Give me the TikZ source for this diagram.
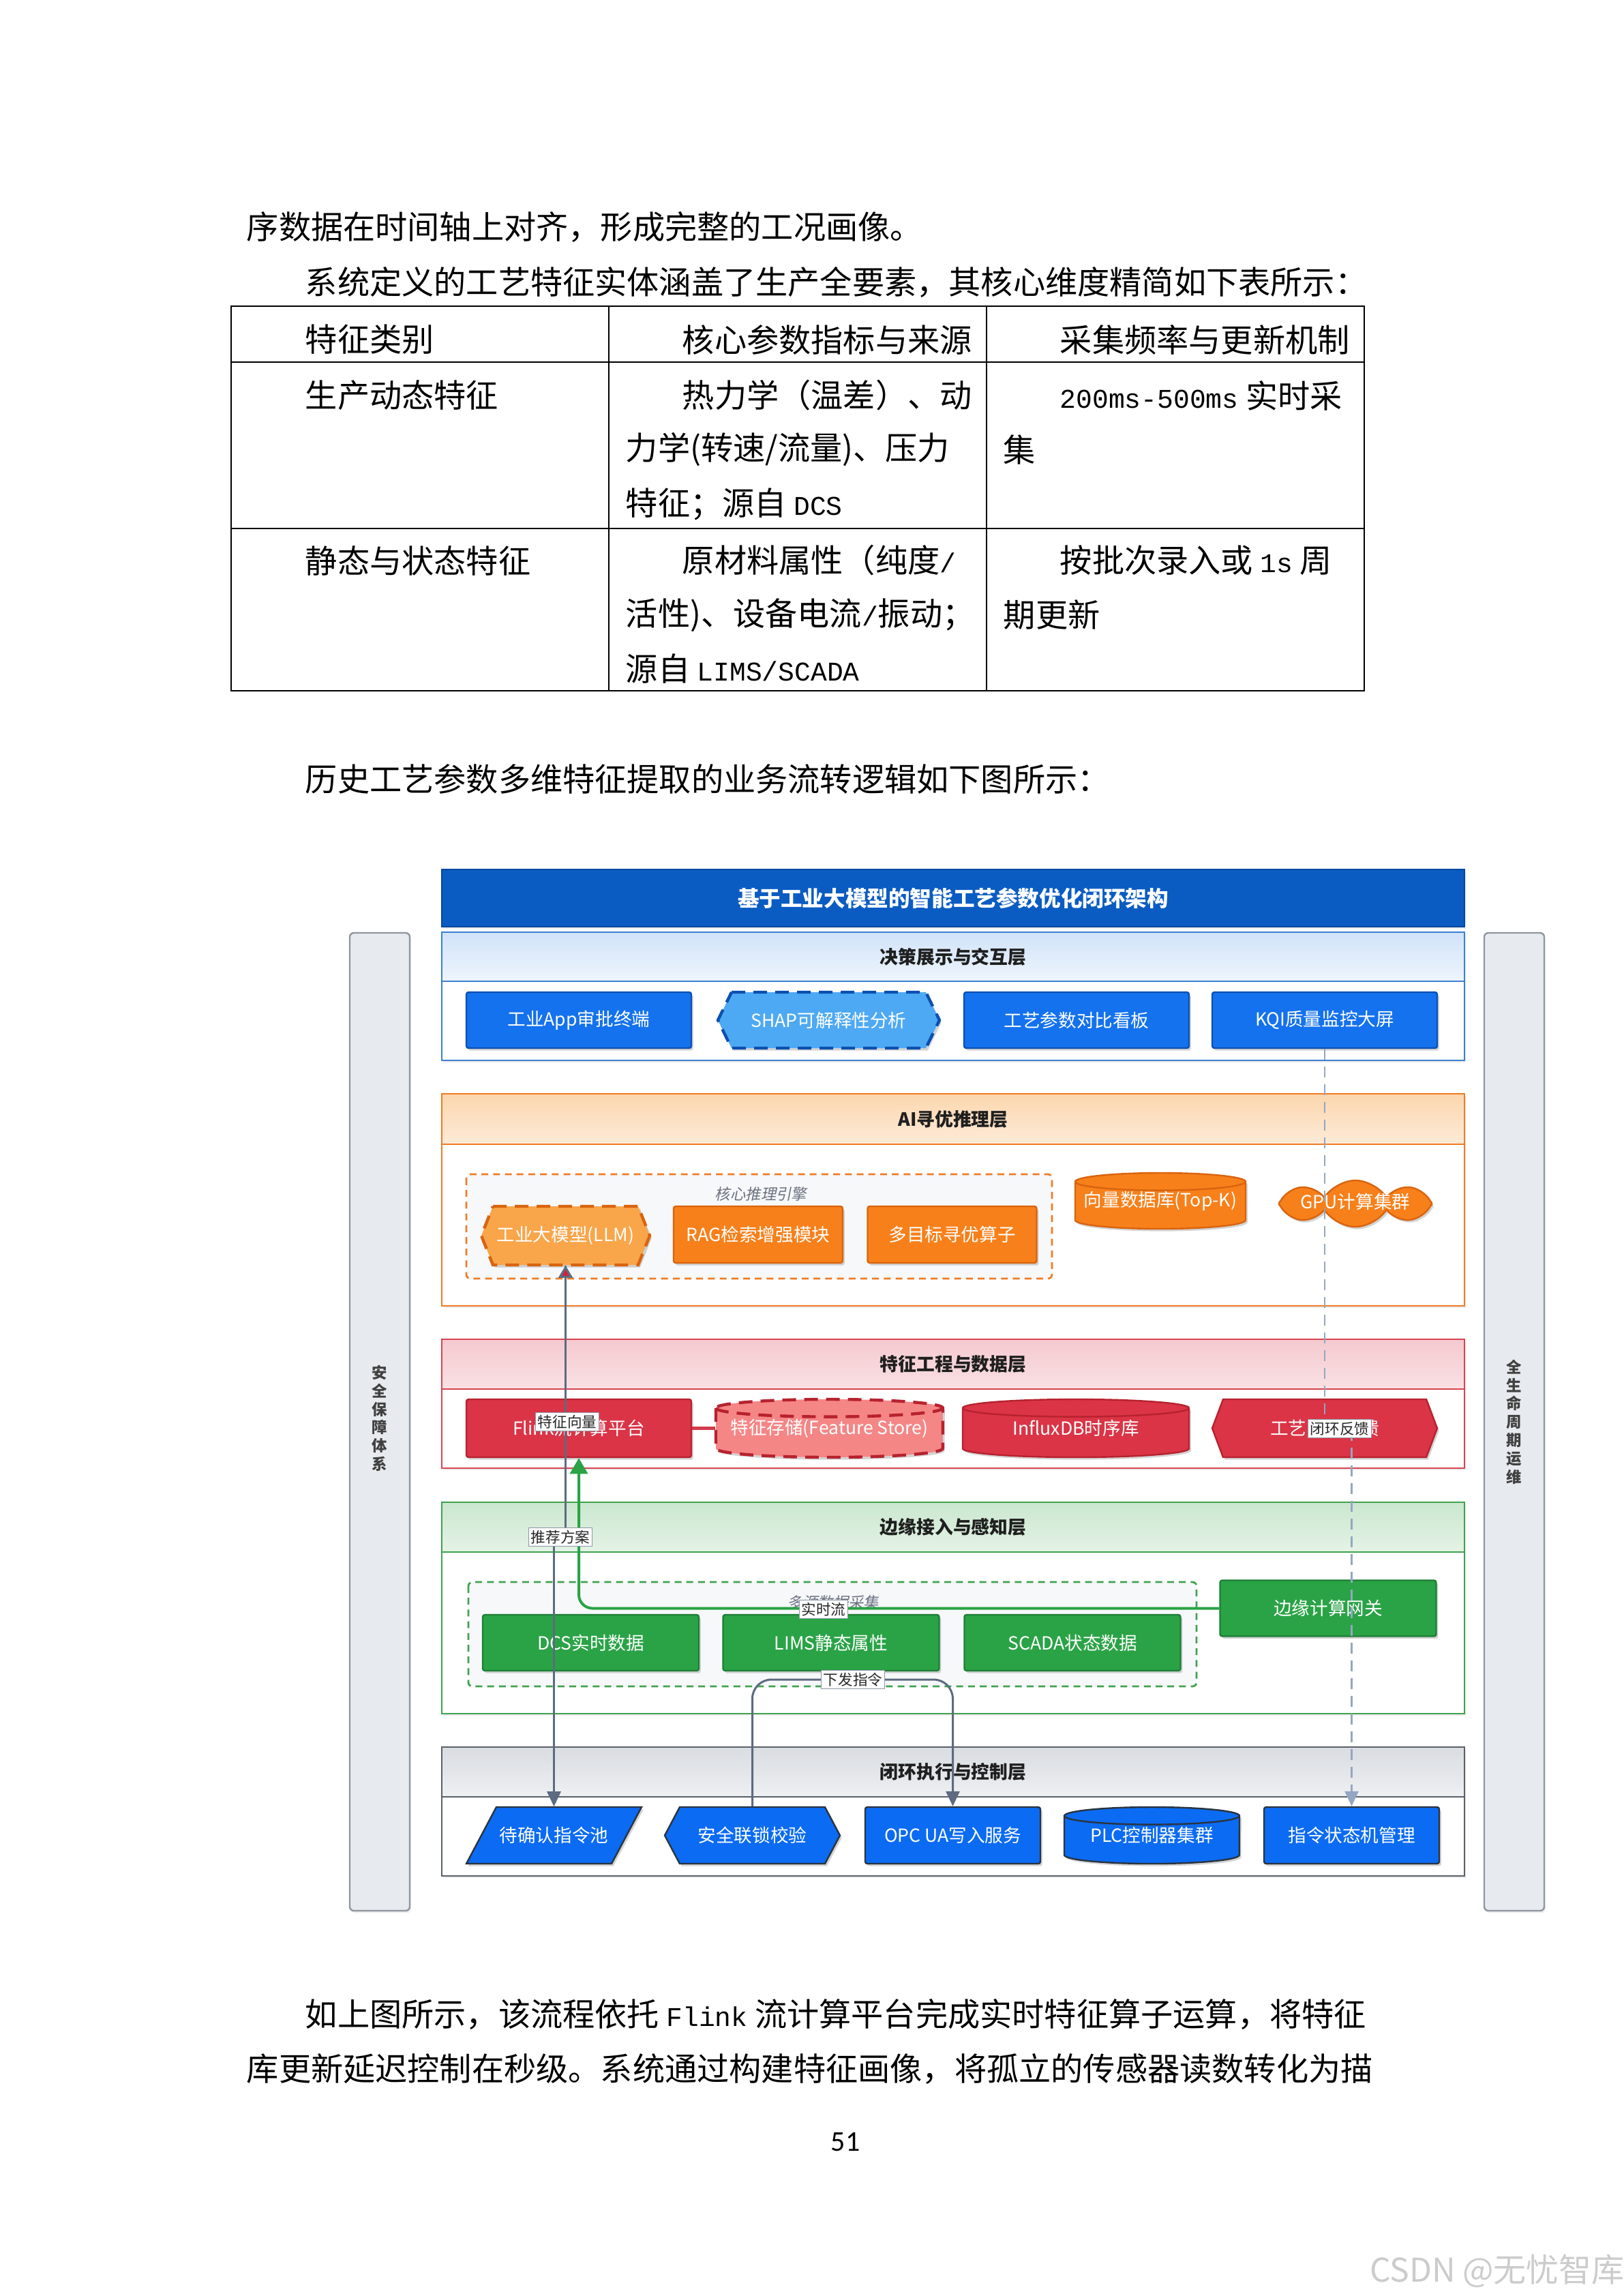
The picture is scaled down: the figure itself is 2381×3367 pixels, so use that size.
\documentclass[tikz,border=0pt]{standalone}
\usepackage{fontspec}
\setmainfont{Noto Sans CJK SC}
\newfontfamily\cjk{Noto Sans CJK SC}
\newfontfamily\cjkit[FakeSlant=0.2]{Noto Sans CJK SC}
\newfontfamily\monof[Scale=0.84]{Liberation Mono}
\newfontfamily\numf{Carlito}
\usetikzlibrary{shapes.symbols,shadows,arrows.meta}

\definecolor{cTitle}{HTML}{0B5CC2}
\definecolor{cTitleD}{HTML}{07479E}
\definecolor{cL1}{HTML}{3B80D0}
\definecolor{cL1a}{HTML}{D0E3F9}
\definecolor{cL1b}{HTML}{EEF5FD}
\definecolor{cBlue}{HTML}{1472EE}
\definecolor{cBlueD}{HTML}{0C50B0}
\definecolor{cShap}{HTML}{4EA9F4}
\definecolor{cL2}{HTML}{F07B24}
\definecolor{cL2a}{HTML}{FBD6AE}
\definecolor{cL2b}{HTML}{FDEBD8}
\definecolor{cOr}{HTML}{F7801A}
\definecolor{cOrD}{HTML}{D9640F}
\definecolor{cLLM}{HTML}{F9A54A}
\definecolor{cGrp}{HTML}{F7F8FA}
\definecolor{cL3}{HTML}{D84450}
\definecolor{cL3a}{HTML}{F4C9CF}
\definecolor{cL3b}{HTML}{F9E1E4}
\definecolor{cRed}{HTML}{DB3446}
\definecolor{cRedD}{HTML}{B7222F}
\definecolor{cFS}{HTML}{F58686}
\definecolor{cRedL}{HTML}{D23B4B}
\definecolor{cL4}{HTML}{3FA24F}
\definecolor{cL4a}{HTML}{CBE7CF}
\definecolor{cL4b}{HTML}{E4F3E6}
\definecolor{cGreen}{HTML}{2AA346}
\definecolor{cGreenD}{HTML}{1E7E36}
\definecolor{cL5}{HTML}{5B6168}
\definecolor{cL5a}{HTML}{D9DCE1}
\definecolor{cL5b}{HTML}{EEF0F2}
\definecolor{cB5}{HTML}{0B6BF3}
\definecolor{cB5D}{HTML}{2A3440}
\definecolor{cLink}{HTML}{5C6B80}
\definecolor{cArrR}{HTML}{D02440}
\definecolor{cDash}{HTML}{95A6C2}
\definecolor{cBar}{HTML}{E7EAEE}
\definecolor{cBarD}{HTML}{8F969F}
\definecolor{cGrpTxt}{HTML}{6B7280}

\newcommand\bodysize{\fontsize{11.8}{14}\selectfont}
\newcommand\nodesize{\fontsize{6.65}{8}\selectfont}

\tikzset{
  shd/.style={drop shadow={shadow xshift=0.7pt,shadow yshift=-0.9pt,opacity=0.28,fill=black!60}},
  lshd/.style={drop shadow={shadow xshift=0.5pt,shadow yshift=-0.8pt,opacity=0.15,fill=black!50}},
  bodytxt/.style={anchor=west,inner sep=0pt,font=\bodysize},
  ntext/.style={rectangle,inner sep=0pt,text=white,font=\nodesize},
  nbox/.style={ntext,rounded corners=0.8pt,line width=0.6pt,shd},
  bluebox/.style={nbox,fill=cBlue,draw=cBlueD,minimum width=82.5pt,minimum height=20.5pt},
  orbox/.style={nbox,fill=cOr,draw=cOrD,minimum width=62pt,minimum height=20.75pt},
  redbox/.style={nbox,fill=cRed,draw=cRedD,minimum width=82.5pt,minimum height=21.25pt},
  greenbox/.style={nbox,fill=cGreen,draw=cGreenD,minimum width=79.25pt,minimum height=20.5pt},
  bfbox/.style={nbox,fill=cB5,draw=cB5D,minimum width=64.25pt,minimum height=20.75pt},
  layertitle/.style={inner sep=0pt,font=\fontsize{6.7}{8}\selectfont\bfseries,text=black!88},
  grplabel/.style={inner sep=0pt,font=\cjkit\fontsize{5.6}{7}\selectfont,text=cGrpTxt},
  elabel/.style={fill=white,draw=cLink!70,line width=0.3pt,inner sep=0.8pt,font=\fontsize{5.4}{6}\selectfont,text=black!85},
  sidebar/.style={rectangle,fill=cBar,draw=cBarD,line width=0.6pt,rounded corners=1.5pt,minimum width=22pt,minimum height=358.5pt,lshd},
  sidetxt/.style={align=center,inner sep=0pt,font=\fontsize{5.6}{6.7}\selectfont\bfseries,text=black!75},
  glink/.style={draw=cLink,line width=0.75pt},
  gtip/.style={-{Triangle[length=5.5pt,width=5pt,fill=cLink]}},
}

% hexagon with pointed left/right sides: name,x1,y1,x2,y2,indent,style,text
\newcommand\hexnode[8]{%
  \path[#7] ({#2+#6},#3) -- ({#4-#6},#3) -- (#4,{(#3+#5)/2}) -- ({#4-#6},#5) -- ({#2+#6},#5) -- (#2,{(#3+#5)/2}) -- cycle;
  \node[ntext,minimum width={(#4-#2)*0.25pt},minimum height={(#5-#3)*0.25pt}] (#1) at ({(#2+#4)/2},{(#3+#5)/2}) {#8};}
% parallelogram: name,x1,y1,x2,y2,skew,style,text
\newcommand\paranode[8]{%
  \path[#7] ({#2+#6},#3) -- (#4,#3) -- ({#4-#6},#5) -- (#2,#5) -- cycle;
  \node[ntext,minimum width={(#4-#2)*0.25pt},minimum height={(#5-#3)*0.25pt}] (#1) at ({(#2+#4)/2},{(#3+#5)/2}) {#8};}
% cylinder: name,x1,y1,x2,y2,xradius,style,frontstyle,text  (ellipse y radius 3.2pt = 12.8 units)
\newcommand\cylnode[9]{%
  \path[#7] (#2,{#3+12.8}) -- (#2,{#5-12.8}) arc[start angle=180,end angle=360,x radius=#6,y radius=3.2pt] -- (#4,{#3+12.8}) arc[start angle=0,end angle=180,x radius=#6,y radius=3.2pt] -- cycle;
  \path[#8] (#2,{#3+12.8}) arc[start angle=180,end angle=360,x radius=#6,y radius=3.2pt];
  \node[ntext,minimum width={(#4-#2)*0.25pt},minimum height={(#5-#3)*0.25pt}] (#1) at ({(#2+#4)/2},{(#3+#5)/2}) {#9};}
% layer: name,y1,yheader,y2,border,topcolor,bottomcolor,title
\newcommand\layerband[8]{%
  \path[draw=#5,line width=0.6pt,fill=white,lshd] (648,#2) rectangle (2148,#4);
  \path[draw=#5,line width=0.6pt,top color=#6,bottom color=#7] (648,#2) rectangle (2148,#3);
  \node[layertitle] (#1) at (1398,{(#2+#3)/2}) {#8};}

\begin{document}
\begin{tikzpicture}[x=0.25pt,y=-0.25pt]
\useasboundingbox (0,0) rectangle (2381,3367);
\fill[white] (0,0) rectangle (2381,3367);

% ---------- body text above ----------
\node[bodytxt] (p1) at (361,333) {序数据在时间轴上对齐，形成完整的工况画像。};
\node[bodytxt] (p2) at (447,414) {系统定义的工艺特征实体涵盖了生产全要素，其核心维度精简如下表所示：};

% ---------- table ----------
\draw[line width=0.7pt] (339,449) rectangle (2001,1013);
\draw[line width=0.7pt] (339,531) -- (2001,531);
\draw[line width=0.7pt] (339,775) -- (2001,775);
\draw[line width=0.7pt] (893,449) -- (893,1013);
\draw[line width=0.7pt] (1447,449) -- (1447,1013);

\node[bodytxt] (h1) at (447,498) {特征类别};
\node[bodytxt] (h2) at (1000,498) {核心参数指标与来源};
\node[bodytxt] (h3) at (1554,498) {采集频率与更新机制};

\node[bodytxt] (r1c1) at (447,580) {生产动态特征};
\node[bodytxt] (r1c2a) at (1000,580) {热力学（温差）、动};
\node[bodytxt] (r1c2b) at (917,659) {力学(转速/流量)、压力};
\node[bodytxt] (r1c2c) at (917,739) {特征；源自 {\monof DCS}};
\node[bodytxt] (r1c3a) at (1554,580) {{\monof 200ms-500ms} 实时采};
\node[bodytxt] (r1c3b) at (1471,659) {集};

\node[bodytxt] (r2c1) at (447,822) {静态与状态特征};
\node[bodytxt] (r2c2a) at (1000,822) {原材料属性（纯度{\monof /}};
\node[bodytxt] (r2c2b) at (917,902) {活性)、设备电流{\monof /}振动；};
\node[bodytxt] (r2c2c) at (917,981) {源自 {\monof LIMS/SCADA}};
\node[bodytxt] (r2c3a) at (1554,822) {按批次录入或 {\monof 1s} 周};
\node[bodytxt] (r2c3b) at (1471,902) {期更新};

\node[bodytxt] (p3) at (447,1142) {历史工艺参数多维特征提取的业务流转逻辑如下图所示：};

% ---------- diagram ----------
% side bars
\node[sidebar] (lbar) at (557,2085) {};
\node[sidetxt] (ltxt) at (557,2080) {安\\全\\保\\障\\体\\系};
\node[sidebar] (rbar) at (2221,2085) {};
\node[sidetxt] (rtxt) at (2221,2085) {全\\生\\命\\周\\期\\运\\维};

% title bar
\path[fill=cTitle,draw=cTitleD,line width=0.6pt,lshd] (648,1275) rectangle (2148,1359);
\node[inner sep=0pt,text=white,font=\fontsize{7.9}{9}\selectfont\bfseries] (title) at (1398,1317) {基于工业大模型的智能工艺参数优化闭环架构};

% layers
\layerband{lay1}{1367}{1439}{1555}{cL1}{cL1a}{cL1b}{决策展示与交互层}
\layerband{lay2}{1604}{1678}{1915}{cL2}{cL2a}{cL2b}{AI寻优推理层}
\layerband{lay3}{1964}{2037}{2153}{cL3}{cL3a}{cL3b}{特征工程与数据层}
\layerband{lay4}{2203}{2276}{2513}{cL4}{cL4a}{cL4b}{边缘接入与感知层}
\layerband{lay5}{2562}{2635}{2751}{cL5}{cL5a}{cL5b}{闭环执行与控制层}

% layer 1 nodes
\node[bluebox] (app) at (849,1496) {工业App审批终端};
\hexnode{shap}{1053}{1455}{1378}{1537}{20}{fill=cShap,draw=cBlueD,line width=1.1pt,dash pattern=on 5pt off 3pt,shd}{SHAP可解释性分析}
\node[bluebox] (board) at (1579,1496) {工艺参数对比看板};
\node[bluebox] (kqi) at (1943,1496) {KQI质量监控大屏};

% layer 2
\path[draw=cL2,fill=cGrp,line width=0.7pt,dash pattern=on 2.5pt off 1.8pt,rounded corners=1.5pt] (684,1722) rectangle (1543,1875);
\node[grplabel] (glab1) at (1116,1751) {核心推理引擎};
\hexnode{llm}{706}{1769}{953}{1855}{17}{fill=cLLM,draw=cOrD,line width=1.1pt,dash pattern=on 5pt off 3pt,shd}{工业大模型(LLM)}
\node[orbox] (rag) at (1112,1810.5) {RAG检索增强模块};
\node[orbox] (moo) at (1396.5,1810.5) {多目标寻优算子};
\cylnode{vdb}{1577}{1720}{1827}{1802}{31.25pt}{fill=cOr,draw=cOrD,line width=0.6pt,shd}{draw=cOrD,line width=0.6pt}{向量数据库(Top-K)}
\node[cloud,cloud puffs=8,cloud puff arc=115,aspect=3.3,fill=cOr,draw=cOrD,line width=0.6pt,minimum width=56pt,minimum height=17pt,inner sep=0pt,shd] (gpu) at (1988,1765) {};
\node[ntext] (gputxt) at (1988,1762) {GPU计算集群};

% layer 3
\node[redbox] (flink) at (849,2094.5) {Flink流计算平台};
\cylnode{fstore}{1050}{2052}{1383}{2137}{41.6pt}{fill=cFS,draw=cRedD,line width=1.1pt,dash pattern=on 5pt off 3pt,shd}{draw=cRedD,line width=1.1pt,dash pattern=on 5pt off 3pt}{特征存储(Feature Store)}
\cylnode{influx}{1412}{2052}{1744}{2137}{41.5pt}{fill=cRed,draw=cRedD,line width=0.6pt,shd}{draw=cRedD,line width=0.6pt}{InfluxDB时序库}
\hexnode{fb}{1778}{2052}{2108}{2137}{16}{fill=cRed,draw=cRedD,line width=0.6pt,shd}{工艺闭环反馈}
\draw[cRedL,line width=1.3pt] (flink.east) -- (fstore.west);

% layer 4
\path[draw=cL4,fill=cGrp,line width=0.7pt,dash pattern=on 2.5pt off 1.8pt,rounded corners=1.5pt] (687,2320) rectangle (1755,2473);
\node[grplabel] (glab2) at (1222,2350) {多源数据采集};
\node[greenbox] (dcs) at (866.5,2409) {DCS实时数据};
\node[greenbox] (lims) at (1219,2409) {LIMS静态属性};
\node[greenbox] (scada) at (1573,2409) {SCADA状态数据};
\node[greenbox] (gw) at (1948,2358.5) {边缘计算网关};

% layer 5
\paranode{ptpool}{684}{2650}{941}{2733}{44}{fill=cB5,draw=cB5D,line width=0.6pt,shd}{待确认指令池}
\hexnode{safe}{975}{2650}{1232}{2733}{22}{fill=cB5,draw=cB5D,line width=0.6pt,shd}{安全联锁校验}
\node[bfbox] (opc) at (1397.5,2691.5) {OPC UA写入服务};
\cylnode{plc}{1561}{2650}{1818}{2733}{32.1pt}{fill=cB5,draw=cB5D,line width=0.6pt,shd}{draw=cB5D,line width=0.6pt}{PLC控制器集群}
\node[bfbox] (state) at (1982.5,2691.5) {指令状态机管理};

% ---------- connectors ----------
\coordinate (j1) at (829.5,2254);
\coordinate (j3) at (1251,2463);
\coordinate (j4) at (1962,2095);

% LLM -> pending pool (推荐方案)
\draw[glink,gtip] (llm.south) -- (llm.south |- j1) -- (ptpool.north |- j1) -- (ptpool.north);
% feature vector -> LLM
\draw[glink,-{Triangle[length=4.5pt,width=5.2pt,fill=cArrR]}] (llm.south |- flink.center) -- (llm.south);
% gateway -> flink (实时流)
\draw[cGreen,line width=1pt,rounded corners=5pt,-{Triangle[length=5.8pt,width=6.5pt,fill=cGreen]}] (gw.west) -| (flink.south);
% safety -> OPC (下发指令)
\draw[glink,rounded corners=7pt,gtip] (safe.north) |- (j3) -| (opc.north);
% KQI -> state machine (闭环反馈)
\draw[draw=cDash,line width=0.55pt,dash pattern=on 4pt off 2.5pt,-{Triangle[length=5.5pt,width=5pt,fill=cDash]}] (kqi.south) -- (kqi.south |- j4) -- (state.north |- j4) -- (state.north);

% edge labels
\node[elabel] (lab1) at (832,2085) {特征向量};
\node[elabel] (lab2) at (822,2254) {推荐方案};
\node[elabel] (lab3) at (1208,2360) {实时流};
\node[elabel] (lab4) at (1251,2463) {下发指令};
\node[elabel] (lab5) at (1965,2095) {闭环反馈};

% ---------- body text below ----------
\node[bodytxt] (p4) at (447,2954) {如上图所示，该流程依托 {\monof Flink} 流计算平台完成实时特征算子运算，将特征};
\node[bodytxt] (p5) at (361,3034) {库更新延迟控制在秒级。系统通过构建特征画像，将孤立的传感器读数转化为描};
\node[inner sep=0pt,font=\numf\fontsize{10.5}{12}\selectfont] (pg) at (1240,3141) {51};
\node[inner sep=0pt,font=\fontsize{12}{14}\selectfont,text=black!20] (csdn) at (2196,3330) {CSDN @无忧智库};
\end{tikzpicture}
\end{document}
